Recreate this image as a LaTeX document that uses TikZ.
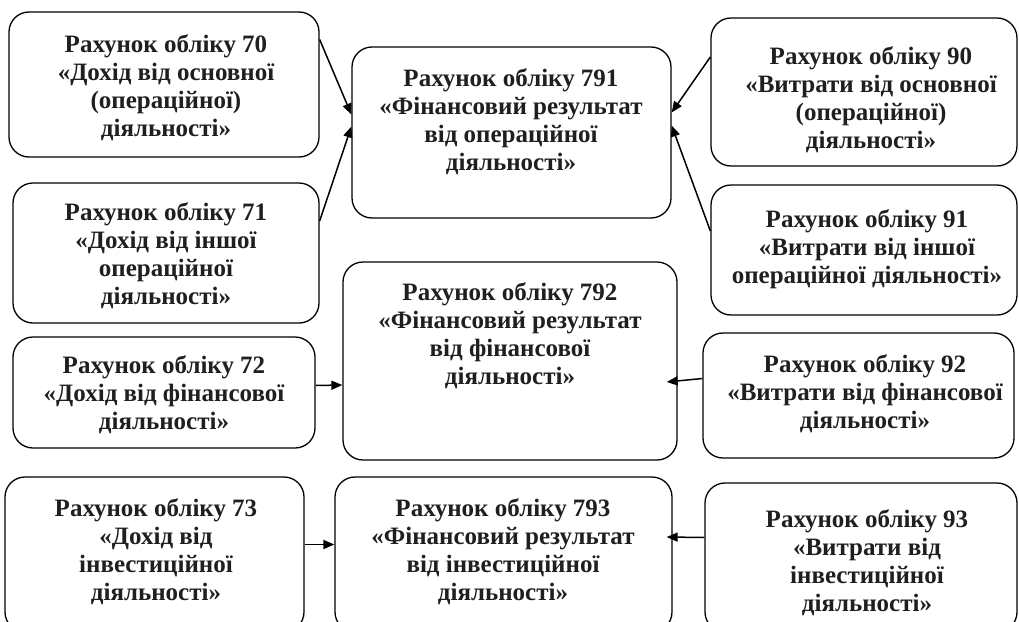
\documentclass[tikz,border=0pt]{standalone}
\usepackage{fontspec}
\setmainfont{Liberation Serif}
\usetikzlibrary{arrows.meta}
\tikzset{
  acbox/.style={draw=black, line width=1.3pt, rounded corners=20pt, inner sep=0pt},
  actxt/.style={align=center, font=\fontsize{25}{28}\selectfont\bfseries, inner sep=0pt, text=black!88},
  acarrow/.style={line width=1.5pt, -{Triangle[length=11pt,width=9pt]}}
}
\newcommand{\acbox}[5]{%
  \node[acbox, minimum width={#4-#2}, minimum height={#5-#3}] (#1) at ({(#2+#4)/2},{(#3+#5)/2}) {};}
\begin{document}
\begin{tikzpicture}[x=1pt,y=-1pt]
\useasboundingbox (0,0) rectangle (1019,621);
\clip (0,0) rectangle (1019,621);
% boxes
\acbox{b70}{9}{12}{319}{157}
\acbox{b71}{13}{183}{319}{323}
\acbox{b72}{13}{337}{315}{448}
\acbox{b73}{5}{477}{304}{632}
\acbox{b791}{352}{47}{671}{218}
\acbox{b792}{343}{262}{677}{460}
\acbox{b793}{335}{477}{672}{632}
\acbox{b90}{711}{18}{1017}{166}
\acbox{b91}{711}{185}{1017}{315}
\acbox{b92}{703}{333}{1014}{458}
\acbox{b93}{705}{483}{1017}{632}
% texts
\node[actxt] (t70) at (166,88) {Рахунок обліку 70\\«Дохід від основної\\(операційної)\\діяльності»};
\node[actxt] (t71) at (166,256) {Рахунок обліку 71\\«Дохід від іншої\\операційної\\діяльності»};
\node[actxt] (t72) at (164,395) {Рахунок обліку 72\\«Дохід від фінансової\\діяльності»};
\node[actxt] (t73) at (156,552) {Рахунок обліку 73\\«Дохід від\\інвестиційної\\діяльності»};
\node[actxt] (t791) at (511,122) {Рахунок обліку 791\\«Фінансовий результат\\від операційної\\діяльності»};
\node[actxt] (t792) at (510,336) {Рахунок обліку 792\\«Фінансовий результат\\від фінансової\\діяльності»};
\node[actxt] (t793) at (503,552) {Рахунок обліку 793\\«Фінансовий результат\\від інвестиційної\\діяльності»};
\node[actxt] (t90) at (871,100) {Рахунок обліку 90\\«Витрати від основної\\(операційної)\\діяльності»};
\node[actxt] (t91) at (867,249) {Рахунок обліку 91\\«Витрати від іншої\\операційної діяльності»};
\node[actxt] (t92) at (865,394) {Рахунок обліку 92\\«Витрати від фінансової\\діяльності»};
\node[actxt] (t93) at (867,563) {Рахунок обліку 93\\«Витрати від\\інвестиційної\\діяльності»};
% connectors
\draw[acarrow] ([yshift=45pt]b70.east) -- ([yshift=18pt]b791.west);
\draw[acarrow] ([yshift=32pt]b71.east) -- ([yshift=6pt]b791.west);
\draw[acarrow] ([yshift=35pt]b90.west) -- ([yshift=20pt]b791.east);
\draw[acarrow] ([yshift=19pt]b91.west) -- ([yshift=7pt]b791.east);
\draw[acarrow] ([yshift=7pt]b72.east) -- ([yshift=-24pt]b792.west);
\draw[acarrow] ([yshift=17pt]b92.west) -- ([xshift=-11pt,yshift=-21pt]b792.east);
\draw[acarrow] ([yshift=10pt]b73.east) -- ([yshift=10pt]b793.west);
\draw[acarrow] ([yshift=20pt]b93.west) -- ([xshift=-6pt,yshift=17.5pt]b793.east);
\end{tikzpicture}
\end{document}
